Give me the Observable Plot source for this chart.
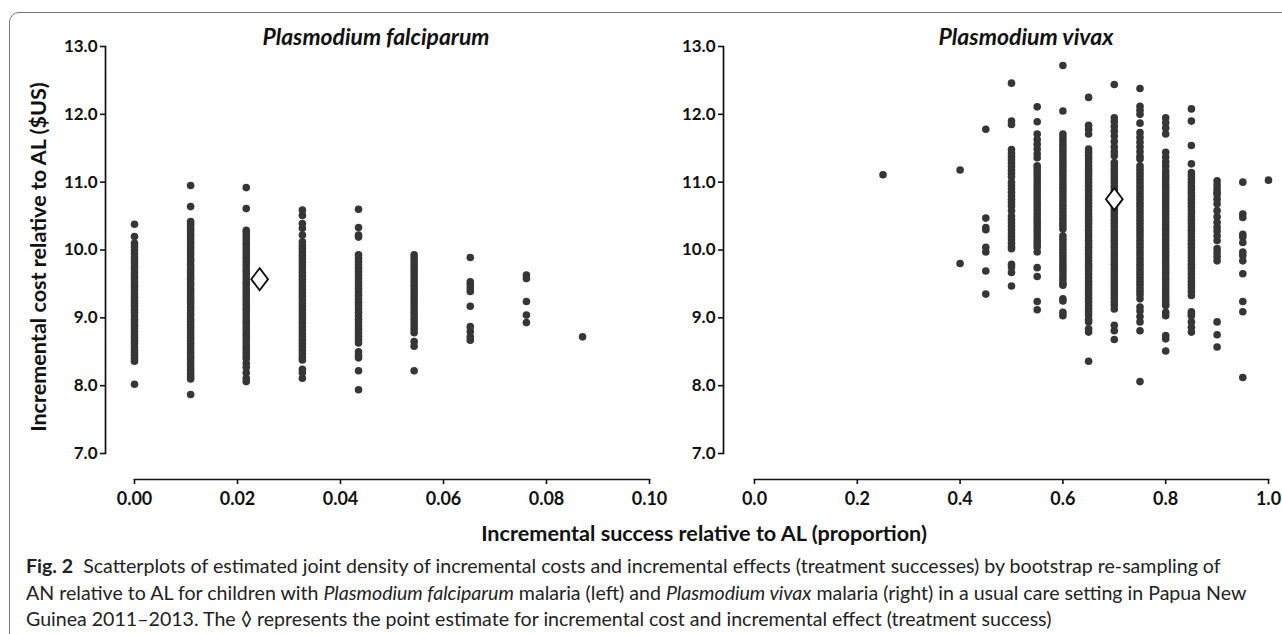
<!DOCTYPE html>
<html><head><meta charset="utf-8">
<script src="https://cdn.jsdelivr.net/npm/d3@7"></script>
<script src="https://cdn.jsdelivr.net/npm/@observablehq/plot@0.6"></script>
<style>
body{margin:0;background:#fff;}
#fig{position:relative;width:1282px;height:634px;overflow:hidden;font-family:Lato,sans-serif;color:#111;}
#border{position:absolute;left:9px;top:12px;width:1320px;height:680px;border:1.5px solid #777;border-radius:10px;box-sizing:border-box;}
.plot{position:absolute;top:0;}
.title{position:absolute;top:36px;transform:translate(-50%,-50%);font-weight:700;font-style:italic;font-size:22px;white-space:nowrap;}
#ylab{position:absolute;left:38px;top:257px;transform:translate(-50%,-50%) rotate(-90deg);font-weight:700;font-size:19px;white-space:nowrap;}
#xlab{position:absolute;left:704px;top:533px;transform:translate(-50%,-50%);font-weight:700;font-size:21px;white-space:nowrap;}
.cap{position:absolute;left:26px;transform:translateY(-50%);font-size:19.5px;white-space:nowrap;color:#222;}
</style></head>
<body>
<div id="fig">
  <div id="border"></div>
  <div id="left" class="plot" style="left:0px"></div>
  <div id="right" class="plot" style="left:640px"></div>
  <div id="t1" class="title" style="left:376px">Plasmodium falciparum</div>
  <div id="t2" class="title" style="left:1026px">Plasmodium vivax</div>
  <div id="ylab">Incremental cost relative to AL ($US)</div>
  <div id="xlab">Incremental success relative to AL (proportion)</div>
  <div id="c1" class="cap" style="top:565px"><b>Fig. 2</b>&nbsp; Scatterplots of estimated joint density of incremental costs and incremental effects (treatment successes) by bootstrap re-sampling of</div>
  <div id="c2" class="cap" style="top:592px">AN relative to AL for children with <i>Plasmodium falciparum</i> malaria (left) and <i>Plasmodium vivax</i> malaria (right) in a usual care setting in Papua New</div>
  <div id="c3" class="cap" style="top:618px">Guinea 2011–2013. The ◊ represents the point estimate for incremental cost and incremental effect (treatment success)</div>
</div>
<script>
// ---- Plasmodium falciparum (left) ----
const pfX = [0, 0.0109, 0.0217, 0.0326, 0.0435, 0.0543, 0.0652, 0.0761, 0.0870];
const pf0 = [10.38, 10.20, 10.10, 10.05, 10.00, 9.95, 9.90, 9.86, 9.81, 9.76, 9.72, 9.67, 9.62, 9.58, 9.53, 9.48, 9.44, 9.40, 9.35, 9.30, 9.26, 9.21, 9.17, 9.12, 9.08, 9.03, 8.98, 8.94, 8.89, 8.85, 8.80, 8.75, 8.71, 8.66, 8.62, 8.57, 8.52, 8.48, 8.44, 8.40, 8.36, 8.02];
const pf1 = [10.95, 10.64, 10.42, 10.38, 10.33, 10.29, 10.24, 10.20, 10.15, 10.11, 10.06, 10.02, 9.97, 9.93, 9.88, 9.84, 9.79, 9.75, 9.70, 9.66, 9.61, 9.57, 9.52, 9.48, 9.43, 9.39, 9.34, 9.30, 9.25, 9.21, 9.16, 9.12, 9.07, 9.03, 8.98, 8.94, 8.89, 8.85, 8.80, 8.76, 8.71, 8.67, 8.62, 8.58, 8.53, 8.49, 8.44, 8.40, 8.35, 8.31, 8.26, 8.22, 8.17, 8.13, 8.10, 7.87];
const pf2 = [10.92, 10.61, 10.29, 10.25, 10.20, 10.15, 10.10, 10.06, 10.01, 9.96, 9.91, 9.87, 9.82, 9.77, 9.72, 9.68, 9.63, 9.58, 9.53, 9.49, 9.44, 9.39, 9.34, 9.30, 9.25, 9.20, 9.15, 9.11, 9.06, 9.01, 8.96, 8.92, 8.87, 8.82, 8.77, 8.73, 8.68, 8.63, 8.58, 8.54, 8.49, 8.44, 8.40, 8.33, 8.27, 8.19, 8.11, 8.06];
const pf3 = [10.59, 10.51, 10.39, 10.32, 10.22, 10.12, 10.07, 10.02, 9.97, 9.92, 9.87, 9.82, 9.77, 9.72, 9.67, 9.62, 9.57, 9.52, 9.47, 9.42, 9.37, 9.32, 9.27, 9.22, 9.17, 9.12, 9.07, 9.02, 8.97, 8.92, 8.87, 8.82, 8.77, 8.72, 8.67, 8.62, 8.57, 8.52, 8.47, 8.42, 8.38, 8.24, 8.19, 8.11];
const pf4 = [10.60, 10.33, 10.22, 10.19, 9.93, 9.88, 9.83, 9.78, 9.73, 9.68, 9.63, 9.58, 9.53, 9.48, 9.43, 9.38, 9.33, 9.28, 9.23, 9.18, 9.13, 9.08, 9.03, 8.98, 8.93, 8.88, 8.83, 8.78, 8.73, 8.68, 8.63, 8.50, 8.45, 8.41, 8.22, 7.94];
const pf5 = [9.93, 9.88, 9.83, 9.78, 9.73, 9.68, 9.63, 9.58, 9.53, 9.48, 9.43, 9.38, 9.33, 9.28, 9.23, 9.18, 9.13, 9.08, 9.03, 8.98, 8.93, 8.88, 8.83, 8.78, 8.65, 8.58, 8.22];
const pf6 = [9.89, 9.53, 9.49, 9.44, 9.39, 9.17, 8.87, 8.80, 8.72, 8.67];
const pf7 = [9.63, 9.58, 9.24, 9.04, 8.93];
const pf8 = [8.72];
const pfEstimate = {x: 0.0243, y: 9.57};
const pfTicks = [0, 0.02, 0.04, 0.06, 0.08, 0.10];

// ---- Plasmodium vivax (right) ----
const pvX = [0.25, 0.40, 0.45, 0.50, 0.55, 0.60, 0.65, 0.70, 0.75, 0.80, 0.85, 0.90, 0.95, 1.00];
const pv025 = [11.11];
const pv040 = [11.18, 9.80];
const pv045 = [11.78, 10.47, 10.33, 10.30, 10.04, 9.97, 9.69, 9.35];
const pv050 = [12.46, 11.90, 11.85, 11.48, 11.43, 11.38, 11.33, 11.28, 11.23, 11.18, 11.13, 11.08, 11.00, 10.95, 10.90, 10.85, 10.80, 10.75, 10.70, 10.65, 10.58, 10.50, 10.45, 10.40, 10.35, 10.30, 10.25, 10.20, 10.15, 10.10, 10.05, 10.02, 9.79, 9.75, 9.67, 9.47];
const pv055 = [12.11, 11.89, 11.71, 11.63, 11.56, 11.49, 11.42, 11.36, 11.24, 11.19, 11.14, 11.09, 11.04, 10.99, 10.94, 10.89, 10.84, 10.79, 10.74, 10.69, 10.64, 10.59, 10.54, 10.49, 10.44, 10.39, 10.34, 10.29, 10.24, 10.19, 10.14, 10.09, 10.04, 9.97, 9.74, 9.61, 9.24, 9.12];
const pv060 = [12.72, 12.05, 11.71, 11.66, 11.61, 11.56, 11.51, 11.46, 11.41, 11.36, 11.31, 11.26, 11.21, 11.16, 11.11, 11.06, 11.01, 10.96, 10.91, 10.86, 10.81, 10.76, 10.71, 10.66, 10.61, 10.56, 10.51, 10.46, 10.41, 10.36, 10.31, 10.21, 10.16, 10.11, 10.06, 10.01, 9.96, 9.91, 9.86, 9.81, 9.76, 9.71, 9.66, 9.61, 9.56, 9.51, 9.48, 9.28, 9.25, 9.08, 9.03];
const pv065 = [12.25, 11.84, 11.78, 11.71, 11.49, 11.44, 11.39, 11.34, 11.29, 11.24, 11.19, 11.14, 11.09, 11.04, 10.99, 10.94, 10.89, 10.84, 10.79, 10.74, 10.69, 10.64, 10.59, 10.54, 10.49, 10.44, 10.39, 10.34, 10.29, 10.24, 10.19, 10.14, 10.09, 10.04, 9.99, 9.94, 9.89, 9.84, 9.79, 9.74, 9.69, 9.64, 9.59, 9.54, 9.49, 9.44, 9.39, 9.34, 9.29, 9.24, 9.19, 9.14, 9.09, 9.04, 8.98, 8.94, 8.84, 8.79, 8.36];
const pv070 = [12.44, 11.95, 11.89, 11.82, 11.75, 11.68, 11.60, 11.52, 11.45, 11.39, 11.29, 11.24, 11.19, 11.14, 11.09, 11.04, 10.99, 10.94, 10.89, 10.84, 10.79, 10.74, 10.69, 10.64, 10.59, 10.54, 10.49, 10.44, 10.39, 10.34, 10.29, 10.24, 10.19, 10.14, 10.09, 10.04, 9.99, 9.94, 9.89, 9.84, 9.79, 9.74, 9.69, 9.64, 9.59, 9.54, 9.49, 9.44, 9.39, 9.34, 9.29, 9.24, 9.19, 9.13, 8.89, 8.81, 8.68];
const pv075 = [12.38, 12.12, 12.06, 12.00, 11.87, 11.73, 11.66, 11.59, 11.52, 11.45, 11.38, 11.34, 11.24, 11.19, 11.14, 11.09, 11.04, 10.99, 10.94, 10.89, 10.84, 10.79, 10.74, 10.69, 10.64, 10.59, 10.54, 10.49, 10.44, 10.39, 10.34, 10.29, 10.24, 10.19, 10.14, 10.09, 10.04, 9.99, 9.94, 9.89, 9.84, 9.79, 9.74, 9.69, 9.64, 9.59, 9.54, 9.49, 9.44, 9.39, 9.34, 9.28, 9.16, 9.10, 9.02, 8.94, 8.81, 8.06];
const pv080 = [11.95, 11.88, 11.80, 11.71, 11.44, 11.37, 11.30, 11.24, 11.17, 11.12, 11.07, 11.02, 10.97, 10.92, 10.87, 10.82, 10.77, 10.72, 10.67, 10.62, 10.57, 10.52, 10.47, 10.42, 10.37, 10.32, 10.27, 10.22, 10.17, 10.12, 10.07, 10.02, 9.97, 9.92, 9.87, 9.82, 9.77, 9.72, 9.67, 9.62, 9.57, 9.52, 9.47, 9.42, 9.37, 9.32, 9.27, 9.22, 9.18, 9.08, 9.03, 8.74, 8.69, 8.51];
const pv085 = [12.08, 11.90, 11.54, 11.27, 11.14, 11.09, 11.04, 10.99, 10.94, 10.89, 10.84, 10.79, 10.74, 10.69, 10.64, 10.59, 10.54, 10.49, 10.44, 10.39, 10.34, 10.29, 10.24, 10.19, 10.14, 10.09, 10.04, 9.99, 9.94, 9.89, 9.84, 9.79, 9.74, 9.69, 9.64, 9.59, 9.54, 9.49, 9.44, 9.39, 9.33, 9.09, 9.06, 9.03, 8.94, 8.86, 8.79];
const pv090 = [11.02, 10.96, 10.90, 10.85, 10.82, 10.75, 10.68, 10.58, 10.49, 10.41, 10.34, 10.28, 10.21, 10.14, 10.02, 9.96, 9.90, 9.84, 8.94, 8.75, 8.57];
const pv095 = [11.00, 10.53, 10.48, 10.23, 10.19, 10.11, 9.97, 9.92, 9.84, 9.65, 9.24, 9.09, 8.12];
const pv100 = [11.03];
const pvEstimate = {x: 0.70, y: 10.75};
const pvTicks = [0, 0.2, 0.4, 0.6, 0.8, 1.0];

const yTicks = [7, 8, 9, 10, 11, 12, 13];

const pfCols = [pf0, pf1, pf2, pf3, pf4, pf5, pf6, pf7, pf8];
const pvCols = [pv025, pv040, pv045, pv050, pv055, pv060, pv065, pv070, pv075, pv080, pv085, pv090, pv095, pv100];
const pfData = pfX.flatMap((x, i) => pfCols[i].map(y => ({x, y})));
const pvData = pvX.flatMap((x, i) => pvCols[i].map(y => ({x, y})));

const diamond = {
  draw(ctx, size) {
    const s = Math.sqrt(size / Math.PI);
    const h = s * 1.38, w = s * 1.05;
    ctx.moveTo(0, -h); ctx.lineTo(w, 0); ctx.lineTo(0, h); ctx.lineTo(-w, 0); ctx.closePath();
  }
};

function panel({data, est, xDomain, xTicks, xFormat, width, marginLeft, insetLeft, marginRight}) {
  return Plot.plot({
    width, height: 515,
    marginLeft, marginRight, marginTop: 46, marginBottom: 36,
    insetLeft, insetBottom: 26, insetTop: 0, insetRight: 0,
    x: {domain: xDomain},
    y: {domain: [7, 13]},
    style: {fontFamily: "Lato, sans-serif", fontWeight: 700, fontSize: "18px", color: "#111", background: "transparent", overflow: "visible"},
    marks: [
      Plot.frame({anchor: "left", insetBottom: 26, strokeWidth: 1.7}),
      Plot.frame({anchor: "bottom", insetLeft, strokeWidth: 1.7}),
      Plot.axisY(yTicks, {tickSize: 5, tickPadding: 3, tickFormat: d3.format(".1f"), fontSize: 17, label: null, strokeWidth: 1.6}),
      Plot.axisX(xTicks, {tickSize: 5, tickPadding: 8, tickFormat: xFormat, fontSize: 18, label: null, strokeWidth: 1.6}),
      Plot.dot(data, {x: "x", y: "y", r: 3.8, fill: "#363636", stroke: "none"}),
      Plot.dot([est], {x: "x", y: "y", symbol: diamond, r: 8, fill: "white", stroke: "#111", strokeWidth: 1.8})
    ]
  });
}

document.getElementById("left").append(panel({
  data: pfData, est: pfEstimate, xDomain: [0, 0.1], xTicks: pfTicks, xFormat: d3.format(".2f"),
  width: 660, marginLeft: 105, insetLeft: 29, marginRight: 11
}));
document.getElementById("right").append(panel({
  data: pvData, est: pvEstimate, xDomain: [0, 1], xTicks: pvTicks, xFormat: d3.format(".1f"),
  width: 642, marginLeft: 83, insetLeft: 31, marginRight: 14
}));

// fit text blocks to the widths measured on the reference
function fit(id, target) {
  const el = document.getElementById(id);
  const fs = parseFloat(getComputedStyle(el).fontSize);
  return fs * target / el.offsetWidth;
}
function setSize(id, s) { document.getElementById(id).style.fontSize = s + "px"; }
setSize("t1", fit("t1", 227));
setSize("t2", fit("t2", 175));
setSize("ylab", fit("ylab", 350));
setSize("xlab", fit("xlab", 446));
const capSize = (fit("c1", 1196) + fit("c2", 1220)) / 2;
["c1", "c2", "c3"].forEach(id => setSize(id, capSize));
</script>
</body></html>
